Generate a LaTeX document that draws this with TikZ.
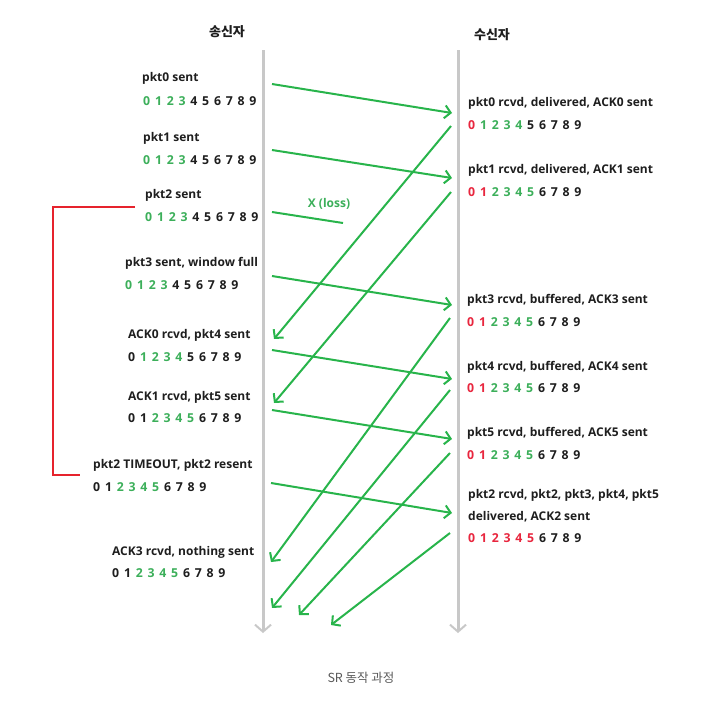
\documentclass[tikz,border=0pt]{standalone}
\usepackage{fontspec}
\setmainfont{Open Sans}
\newfontfamily\kr{Noto Sans CJK KR}
\usetikzlibrary{arrows.meta}
\definecolor{gtx}{RGB}{60,175,90}
\definecolor{kt}{RGB}{30,30,30}
\definecolor{rtx}{RGB}{232,38,62}
\definecolor{garr}{RGB}{40,180,75}
\definecolor{rline}{RGB}{230,35,45}
\definecolor{gline}{RGB}{200,200,200}
\colorlet{g}{gtx}
\colorlet{k}{kt}
\colorlet{r}{rtx}
\newcommand\drow[1]{\foreach \cc [count=\ii from 0] in {#1}{\makebox[11.8pt][l]{\textcolor{\cc}{\ii}}}}
\tikzset{
  lbl/.style={anchor=west,inner sep=0pt,font=\fontsize{12}{14}\selectfont\bfseries,text=kt},
  dgt/.style={anchor=west,inner sep=0pt,font=\fontsize{12.3}{14}\selectfont\bfseries},
  msg/.style={draw=garr,line width=2pt,-{Straight Barb[length=6pt,width=13pt,line width=2pt]}},
  life/.style={draw=gline,line width=3pt,-{Straight Barb[length=7pt,width=16pt,line width=2pt]}},
}
\begin{document}
\begin{tikzpicture}[x=1pt,y=-1pt]
\useasboundingbox (0,0) rectangle (721,705);
% titles
\node[font=\kr\fontsize{13}{15}\selectfont\bfseries,text=kt] (ts) at (227,32) {송신자};
\node[font=\kr\fontsize{13}{15}\selectfont\bfseries,text=kt] (tr) at (492,35) {수신자};
\node[font=\kr\fontsize{12.5}{14}\selectfont,text=black!65] (cap) at (361,678) {SR 동작 과정};
% lifelines
\coordinate (sTop) at (263,50); \coordinate (sBot) at (263,633);
\coordinate (rTop) at (458,50); \coordinate (rBot) at (458,633);
\draw[life] (sTop) -- (sBot);
\draw[life] (rTop) -- (rBot);
% sender labels
\node[lbl] (s0) at (142,78) {pkt0 sent};
\node[dgt] (s0d) at (143,101) {\drow{g,g,g,g,k,k,k,k,k,k}};
\node[lbl] (s1) at (143,138) {pkt1 sent};
\node[dgt] (s1d) at (143,160) {\drow{g,g,g,g,k,k,k,k,k,k}};
\node[lbl] (s2) at (145,195) {pkt2 sent};
\node[dgt] (s2d) at (145,217) {\drow{g,g,g,g,k,k,k,k,k,k}};
\node[lbl] (s3) at (125,263) {pkt3 sent, window full};
\node[dgt] (s3d) at (125,285) {\drow{g,g,g,g,k,k,k,k,k,k}};
\node[lbl] (s4) at (128,335) {ACK0 rcvd, pkt4 sent};
\node[dgt] (s4d) at (128,357) {\drow{k,g,g,g,g,k,k,k,k,k}};
\node[lbl] (s5) at (128,397) {ACK1 rcvd, pkt5 sent};
\node[dgt] (s5d) at (128,418) {\drow{k,k,g,g,g,g,k,k,k,k}};
\node[lbl] (s6) at (93,465) {pkt2 TIMEOUT, pkt2 resent};
\node[dgt] (s6d) at (93,487) {\drow{k,k,g,g,g,g,k,k,k,k}};
\node[lbl] (s7) at (112,552) {ACK3 rcvd, nothing sent};
\node[dgt] (s7d) at (112,573) {\drow{k,k,g,g,g,g,k,k,k,k}};
% receiver labels
\node[lbl] (r0) at (468,103) {pkt0 rcvd, delivered, ACK0 sent};
\node[dgt] (r0d) at (468,125) {\drow{r,g,g,g,g,k,k,k,k,k}};
\node[lbl] (r1) at (468,170) {pkt1 rcvd, delivered, ACK1 sent};
\node[dgt] (r1d) at (468,192) {\drow{r,r,g,g,g,g,k,k,k,k}};
\node[lbl] (r3) at (467,300) {pkt3 rcvd, buffered, ACK3 sent};
\node[dgt] (r3d) at (467,322) {\drow{r,r,g,g,g,g,k,k,k,k}};
\node[lbl] (r4) at (467,367) {pkt4 rcvd, buffered, ACK4 sent};
\node[dgt] (r4d) at (467,388) {\drow{r,r,g,g,g,g,k,k,k,k}};
\node[lbl] (r5) at (467,433) {pkt5 rcvd, buffered, ACK5 sent};
\node[dgt] (r5d) at (467,455) {\drow{r,r,g,g,g,g,k,k,k,k}};
\node[lbl] (r2a) at (468,495) {pkt2 rcvd, pkt2, pkt3, pkt4, pkt5};
\node[lbl] (r2b) at (468,517) {delivered, ACK2 sent};
\node[dgt] (r2d) at (468,538) {\drow{r,r,r,r,r,r,k,k,k,k}};
% loss label
\node[font=\fontsize{12}{14}\selectfont\bfseries,text=gtx] (loss) at (329,204) {X (loss)};
% message endpoints
\coordinate (p0s) at (272,84);  \coordinate (p0e) at (452,113);
\coordinate (p1s) at (272,150); \coordinate (p1e) at (452,178);
\coordinate (p2s) at (272,212); \coordinate (p2e) at (343,223);
\coordinate (p3s) at (272,276); \coordinate (p3e) at (452,305);
\coordinate (p4s) at (272,350); \coordinate (p4e) at (452,379);
\coordinate (p5s) at (272,410); \coordinate (p5e) at (452,439);
\coordinate (p6s) at (271,483); \coordinate (p6e) at (452,513);
\coordinate (a0s) at (451,126); \coordinate (a0e) at (274,339);
\coordinate (a1s) at (451,192); \coordinate (a1e) at (274,403);
\coordinate (a3s) at (450,318); \coordinate (a3e) at (271,562);
\coordinate (a4s) at (450,390); \coordinate (a4e) at (272,608);
\coordinate (a5s) at (450,453); \coordinate (a5e) at (299,615);
\coordinate (a2s) at (450,533); \coordinate (a2e) at (331,625);
\draw[msg] (p0s) -- (p0e);
\draw[msg] (p1s) -- (p1e);
\draw[draw=garr,line width=2pt] (p2s) -- (p2e);
\draw[msg] (p3s) -- (p3e);
\draw[msg] (p4s) -- (p4e);
\draw[msg] (p5s) -- (p5e);
\draw[msg] (p6s) -- (p6e);
\draw[msg] (a0s) -- (a0e);
\draw[msg] (a1s) -- (a1e);
\draw[msg] (a3s) -- (a3e);
\draw[msg] (a4s) -- (a4e);
\draw[msg] (a5s) -- (a5e);
\draw[msg] (a2s) -- (a2e);
% timeout bracket
\coordinate (b1) at (135,207); \coordinate (b2) at (80,475);
\draw[rline,line width=2.2pt] (b1) -| (53,475) -- (b2);
\end{tikzpicture}
\end{document}
